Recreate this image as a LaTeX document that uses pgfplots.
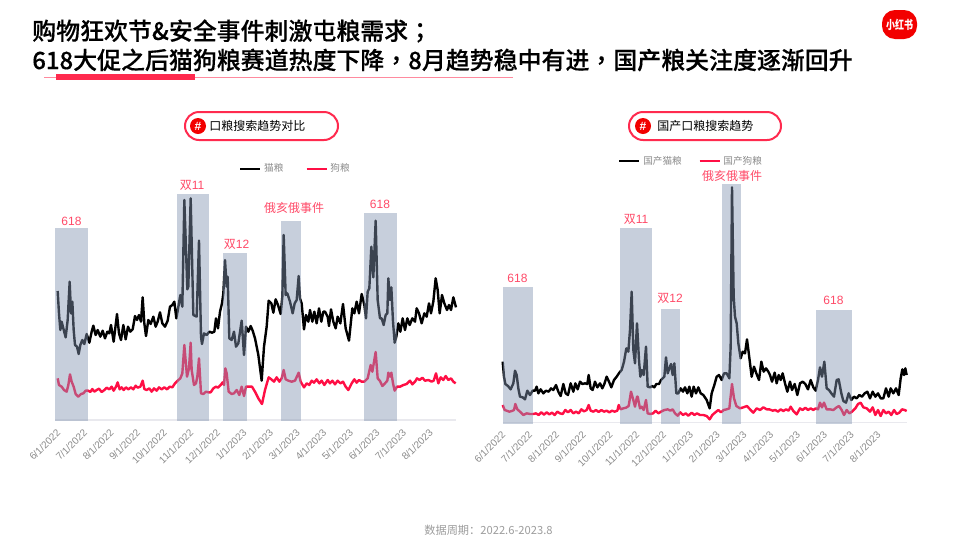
\documentclass[border=0pt]{standalone}
\usepackage{fontspec}
\usepackage{pgfplots}
\pgfplotsset{compat=1.18}
\setmainfont{Noto Sans CJK SC}
\newfontfamily\titlefont[FakeBold=0.25]{Noto Sans CJK SC Medium}
\newfontfamily\titlepunct[FakeBold=0.25]{Noto Sans CJK TC Medium}
\newfontfamily\latinfont{Liberation Sans}
\definecolor{redline}{HTML}{FF0F45}
\definecolor{accent}{HTML}{FF2A4E}
\definecolor{labelred}{HTML}{FF4A68}
\definecolor{band}{HTML}{8595B2}
\definecolor{ticktext}{HTML}{8C8C8C}
\definecolor{axisgrey}{HTML}{E9E9EE}

\pgfplotsset{
  trend/.style={
    scale only axis,
    clip=false,
    axis x line=bottom,
    axis y line=none,
    axis line style={-, axisgrey, line width=1.1pt},
    major tick length=0pt,
    ymin=0,
    xticklabels={6/1/2022,7/1/2022,8/1/2022,9/1/2022,10/1/2022,11/1/2022,12/1/2022,1/1/2023,2/1/2023,3/1/2023,4/1/2023,5/1/2023,6/1/2023,7/1/2023,8/1/2023},
    x tick label style={rotate=45, anchor=north east, inner sep=0pt, font=\latinfont\fontsize{7.5pt}{9pt}\selectfont, text=ticktext, xshift=-5.1pt, yshift=-3.3pt},
    legend image code/.code={\draw[#1] (0pt,0pt) -- (15pt,0pt);},
    legend columns=-1,
    legend cell align={left},
  },
  series/.style={line width=1.8pt, line join=round},
  zone/.style={forget plot, draw=none, fill=band, fill opacity=0.45},
}

\begin{document}
\begin{tikzpicture}
\begin{scope}[x=0.75pt,y=-0.75pt]
\fill[white] (0,0) rectangle (960,540);
\node[anchor=west, inner sep=0pt, font=\titlefont\fontsize{17.95pt}{20pt}\selectfont] at (32,31) {购物狂欢节\&安全事件刺激屯粮需求{\titlepunct ；}};
\node[anchor=west, inner sep=0pt, font=\titlefont\fontsize{17.95pt}{20pt}\selectfont] at (32,60) {618大促之后猫狗粮赛道热度下降{\titlepunct ，}8月趋势稳中有进{\titlepunct ，}国产粮关注度逐渐回升};
\draw[accent!55, line width=0.6pt] (44,77) -- (513,77);
\fill[accent] (56,74) rectangle (195,80);
\fill[red!95!black, rounded corners=9.75pt] (882,10) rectangle (917,39);
\node[text=white, font=\bfseries\fontsize{9pt}{10pt}\selectfont, inner sep=0pt] at (899.5,24.5) {\scalebox{0.75}[1]{小红书}};
\draw[accent, line width=1.5pt, fill=white, rounded corners=10.5pt] (185,112) rectangle (338,140);
\fill[red!95!black] (198,126) circle (8);
\node[text=white, font=\latinfont\bfseries\fontsize{9pt}{10pt}\selectfont, inner sep=0pt] at (198,126) {\#};
\node[anchor=west, inner sep=0pt, font=\fontsize{9pt}{10pt}\selectfont] at (209,126) {口粮搜索趋势对比};
\draw[accent, line width=1.5pt, fill=white, rounded corners=10.5pt] (629,112) rectangle (781,140);
\fill[red!95!black] (643,126) circle (8);
\node[text=white, font=\latinfont\bfseries\fontsize{9pt}{10pt}\selectfont, inner sep=0pt] at (643,126) {\#};
\node[anchor=west, inner sep=0pt, font=\fontsize{9pt}{10pt}\selectfont] at (657,126) {国产口粮搜索趋势};
\node[text=ticktext!85!white, font=\fontsize{8.4pt}{10pt}\selectfont, inner sep=0pt] at (488.5,530) {数据周期：2022.6-2023.8};
\end{scope}

% left chart, x and y in thirds of a pixel
\begin{axis}[trend,
    at={(41.25pt,-315pt)}, anchor=origin,
    width=300.75pt, height=175pt,
    xmin=0, xmax=1203, ymax=700,
    xtick={8,87.8,167.6,247.4,327.2,407,486.8,566.6,646.4,726.2,806,885.8,965.6,1045.4,1125.2},
    legend style={at={(0.4585,1.076)}, anchor=west, draw=none, fill=none, inner sep=0pt,
      font=\fontsize{7.2pt}{8pt}\selectfont, text=ticktext,
      /tikz/every even column/.style={column sep=14.5pt},
      /tikz/every odd column/.style={column sep=0pt}},
  ]
\addplot[series, black] coordinates {
(8,387)(12,320)(16,270)(20,295)(25,275)(32,248)(38,300)(44,415)(48,320)(52,355)(56,270)(60,225)(66,220)(71,198)(76,225)(82,240)(88,228)(95,258)(103,232)(110,265)(115,283)(122,255)(128,270)(136,250)(143,268)(150,245)(157,265)(163,260)(168,285)(176,235)(186,318)(192,260)(198,240)(205,285)(212,242)(219,280)(226,265)(233,272)(240,312)(246,300)(252,315)(258,295)(263,368)(268,290)(273,252)(280,300)(287,288)(295,310)(302,280)(308,295)(315,323)(322,290)(330,280)(338,298)(345,340)(352,345)(358,355)(364,305)(371,345)(376,375)(382,340)(388,660)(397,392)(400,400)(407,665)
(415,315)(425,310)(432,538)(438,250)(441,228)(447,260)(455,255)(463,265)(471,262)(478,265)(483,305)(489,275)(495,325)(501,350)(505,380)(510,480)(515,400)(518,430)(523,245)(530,240)(537,265)(543,220)(550,230)(560,298)(567,195)(573,280)(580,265)(587,282)(593,268)(600,245)(610,195)(620,118)(627,220)(635,280)(641,358)(649,350)(655,322)(662,362)(669,345)(677,318)(682,370)(686,555)(692,375)(697,380)(705,355)(713,320)(719,350)(725,360)(731,432)(735,365)(740,350)(747,272)(753,315)(760,295)(765,330)(772,295)(778,325)(785,290)(792,335)(799,295)(805,325)
(810,325)(818,310)(822,282)(828,332)(835,295)(842,275)(848,310)(856,290)(864,348)(872,275)(882,238)(892,335)(898,320)(905,355)(912,320)(920,378)(928,345)(933,305)(938,385)(943,395)(949,520)(955,428)(962,598)(968,360)(975,305)(980,305)(986,285)(992,315)(997,320)(1000,425)(1005,360)(1009,398)(1014,295)(1019,232)(1024,250)(1030,290)(1036,265)(1043,305)(1050,270)(1057,305)(1064,285)(1072,305)(1080,295)(1085,335)(1092,320)(1100,290)(1108,320)(1115,310)(1122,350)(1128,320)(1135,355)(1142,425)(1148,390)(1154,320)(1161,375)(1168,350)(1176,330)(1182,345)(1188,330)(1195,368)(1203,338)
};
\addplot[series, redline] coordinates {
(8,125)(12,105)(20,100)(27,90)(35,85)(40,105)(45,137)(50,115)(56,100)(62,78)(70,70)(78,78)(85,80)(92,88)(100,88)(106,84)(112,93)(118,85)(125,90)(132,94)(140,84)(148,90)(155,97)(163,92)(170,100)(176,88)(183,100)(188,113)(194,92)(200,98)(206,90)(213,98)(220,92)(228,98)(235,92)(242,103)(248,97)(256,100)(263,118)(268,93)(275,90)(283,95)(290,85)(297,95)(305,88)(312,98)(320,92)(328,98)(336,92)(344,100)(352,98)(360,110)(368,118)(376,125)(382,140)(388,225)(396,130)(402,155)(407,232)
(410,150)(417,105)(423,110)(427,130)(432,185)(438,80)(445,78)(453,85)(460,83)(467,83)(475,95)(483,100)(489,97)(497,105)(503,113)(507,105)(511,155)(515,140)(521,85)(530,78)(537,80)(545,90)(553,75)(560,100)(567,72)(573,100)(581,100)(591,100)(600,85)(610,65)(621,48)(630,90)(641,128)(649,122)(657,115)(665,128)(673,115)(680,125)(686,150)(692,122)(700,118)(710,115)(720,118)(731,142)(737,115)(747,98)(755,110)(763,105)(770,118)(777,112)(785,122)(793,110)(800,118)(808,105)
(818,120)(825,110)(832,118)(840,107)(848,118)(856,110)(864,115)(872,100)(880,90)(890,110)(898,122)(905,112)(912,120)(920,115)(928,115)(938,125)(947,165)(952,145)(962,204)(968,125)(975,117)(982,102)(990,110)(997,118)(1000,142)(1005,130)(1009,142)(1014,110)(1019,88)(1026,100)(1035,100)(1045,105)(1055,108)(1065,118)(1072,107)(1080,115)(1086,125)(1094,120)(1102,127)(1110,118)(1120,120)(1130,115)(1136,118)(1143,140)(1150,110)(1157,128)(1165,120)(1172,132)(1180,120)(1188,125)(1195,115)(1202,110)
};
\addplot[zone] coordinates {(0,-4)(0,575)(100,575)(100,-4)};
\addplot[zone] coordinates {(367,-4)(367,678)(462,678)(462,-4)};
\addplot[zone] coordinates {(505,-4)(505,500)(577,500)(577,-4)};
\addplot[zone] coordinates {(678,-4)(678,598)(737,598)(737,-4)};
\addplot[zone] coordinates {(927,-4)(927,620)(1026,620)(1026,-4)};
\legend{猫粮,狗粮}
\end{axis}

% right chart, same units
\begin{axis}[trend,
    at={(377pt,-316.75pt)}, anchor=origin,
    width=303pt, height=181.75pt,
    xmin=8, xmax=1220, ymax=727,
    xtick={8,88.4,168.8,249.2,329.6,410,490.4,570.8,651.2,731.6,812,892.4,972.8,1053.2,1133.6},
    legend style={at={(0.2855,1.078)}, anchor=west, draw=none, fill=none, inner sep=0pt,
      font=\fontsize{7.2pt}{8pt}\selectfont, text=ticktext,
      /tikz/every even column/.style={column sep=10.5pt},
      /tikz/every odd column/.style={column sep=0pt}},
  ]
\addplot[series, black] coordinates {
(8,182)(12,137)(16,115)(24,109)(32,99)(40,117)(45,155)(50,142)(55,102)(60,77)(68,75)(75,69)(82,95)(90,82)(98,95)(105,95)(110,107)(115,87)(122,99)(130,87)(138,95)(146,92)(153,102)(160,97)(168,112)(175,92)(182,79)(190,115)(197,87)(204,82)(212,117)(220,92)(226,117)(233,99)(240,122)(247,115)(255,117)(262,115)(266,142)(272,102)(278,97)(285,122)(292,105)(300,117)(307,102)(313,115)(320,137)(327,122)(334,105)(342,127)(350,137)(358,149)(365,157)(372,182)(379,222)(385,212)(390,277)(395,392)(400,217)(405,177)(411,297)
(417,187)(421,137)(425,157)(431,142)(438,227)(443,107)(450,105)(457,109)(463,105)(469,115)(477,115)(483,127)(493,137)(498,195)(503,147)(508,162)(513,175)(518,142)(523,177)(529,87)(535,87)(542,102)(549,92)(555,105)(562,87)(568,107)(575,77)(581,107)(588,87)(595,105)(602,87)(610,82)(620,67)(629,42)(635,87)(643,112)(650,137)(657,142)(665,127)(672,147)(680,147)(688,132)(692,227)(696,705)(701,377)(705,317)(710,297)(715,237)(722,192)(728,212)(735,207)(741,249)(747,202)(755,137)(762,167)(769,147)(777,127)(784,182)(791,152)(798,162)(805,152)
(810,142)(816,122)(824,149)(830,117)(836,142)(842,127)(848,147)(855,117)(862,92)(870,122)(876,97)(884,115)(892,82)(900,117)(908,122)(916,115)(924,99)(932,127)(940,105)(947,95)(954,127)(960,165)(966,137)(973,182)(980,102)(987,97)(994,87)(1002,77)(1010,127)(1016,129)(1024,87)(1030,64)(1038,59)(1046,87)(1054,67)(1062,77)(1070,72)(1078,82)(1086,77)(1094,87)(1102,92)(1110,72)(1118,92)(1126,77)(1134,87)(1142,72)(1150,72)(1158,102)(1166,77)(1172,102)(1180,87)(1188,102)(1196,82)(1202,132)(1207,159)(1212,142)(1216,162)(1220,142)
};
\addplot[series, redline] coordinates {
(8,52)(14,37)(20,35)(28,32)(36,34)(42,37)(46,55)(52,39)(60,32)(70,22)(80,27)(90,25)(100,25)(108,27)(116,22)(124,30)(132,23)(140,30)(148,24)(156,29)(164,22)(172,32)(180,27)(188,25)(196,37)(204,30)(212,37)(220,27)(228,32)(236,27)(244,39)(252,33)(260,37)(266,52)(272,35)(280,32)(288,37)(296,31)(304,37)(312,32)(320,35)(328,30)(336,35)(344,32)(352,35)(356,52)(362,39)(370,42)(378,44)(386,49)(393,92)(400,67)(405,47)(411,77)
(413,77)(420,42)(425,47)(431,37)(438,67)(443,27)(451,25)(459,27)(467,35)(475,27)(483,32)(493,37)(503,39)(511,35)(518,39)(525,27)(533,20)(541,30)(549,22)(557,27)(565,20)(575,29)(583,22)(591,27)(600,22)(610,22)(620,19)(629,9)(637,22)(645,29)(655,37)(663,30)(671,37)(680,39)(688,42)(696,115)(702,72)(709,49)(720,42)(730,45)(741,49)(750,39)(760,29)(770,42)(780,37)(790,45)(800,39)(808,39)
(818,35)(826,37)(834,32)(842,39)(850,34)(858,39)(866,35)(872,47)(880,34)(890,24)(900,42)(908,37)(916,44)(924,37)(932,42)(940,37)(947,42)(954,39)(960,59)(966,45)(972,59)(980,39)(990,39)(1000,37)(1010,45)(1017,49)(1025,37)(1032,22)(1040,37)(1048,27)(1056,32)(1066,42)(1074,55)(1082,59)(1090,45)(1100,42)(1110,32)(1118,45)(1126,22)(1134,37)(1142,19)(1150,37)(1158,27)(1166,32)(1174,22)(1182,37)(1190,25)(1198,29)(1206,39)(1214,37)(1220,34)
};
\addplot[zone] coordinates {(9,-4)(9,405)(99,405)(99,-4)};
\addplot[zone] coordinates {(360,-4)(360,582)(455,582)(455,-4)};
\addplot[zone] coordinates {(483,-4)(483,339)(539,339)(539,-4)};
\addplot[zone] coordinates {(666,-4)(666,715)(723,715)(723,-4)};
\addplot[zone] coordinates {(948,-4)(948,336)(1056,336)(1056,-4)};
\legend{国产猫粮,国产狗粮}
\end{axis}

\begin{scope}[x=0.75pt,y=-0.75pt, every node/.style={text=labelred, inner sep=0pt, font=\fontsize{9pt}{10pt}\selectfont}]
\node at (71.5,221) {\latinfont 618};
\node at (192,185) {双{\latinfont 11}};
\node at (236.5,244) {双{\latinfont 12}};
\node at (294,208) {俄亥俄事件};
\node at (380,204) {\latinfont 618};
\node at (517.5,278) {\latinfont 618};
\node at (636,219) {双{\latinfont 11}};
\node at (670,298) {双{\latinfont 12}};
\node at (732,176) {俄亥俄事件};
\node at (833.5,300) {\latinfont 618};
\end{scope}
\end{tikzpicture}
\end{document}
